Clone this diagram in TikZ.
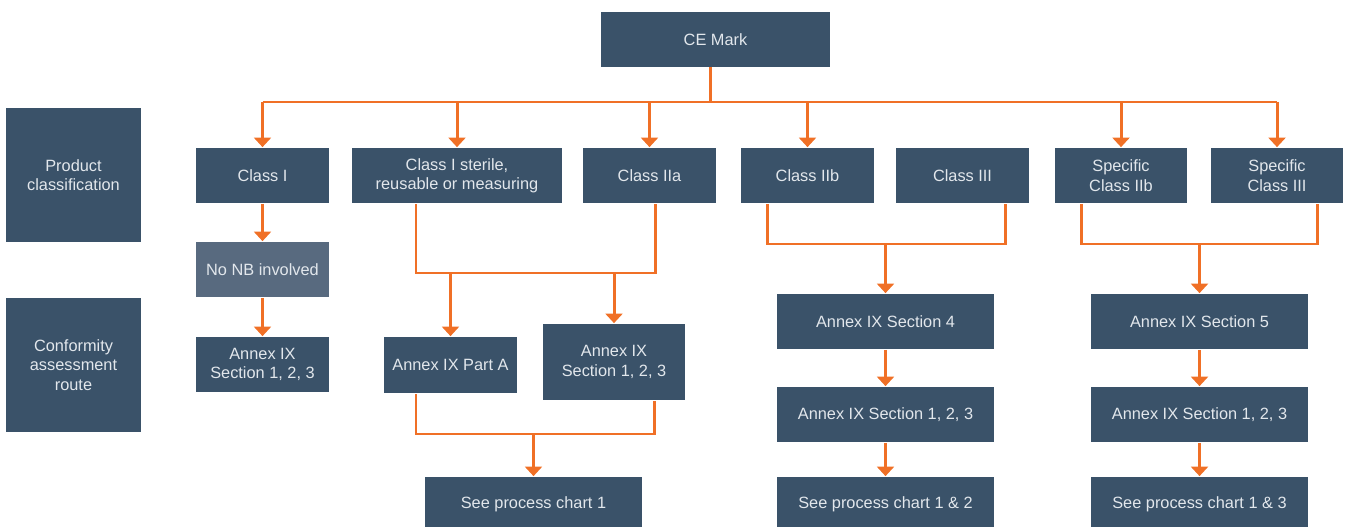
\documentclass[tikz,border=0pt]{standalone}
\usepackage{fontspec}
\setmainfont{Liberation Sans}
\usepackage{xcolor}
\usetikzlibrary{arrows.meta}

\definecolor{boxblue}{HTML}{3A5269}
\definecolor{boxgrey}{HTML}{586A7F}
\definecolor{boxtext}{HTML}{E2E7EC}
\definecolor{linkorange}{HTML}{F07026}

\begin{document}
\begin{tikzpicture}[x=0.02cm, y=-0.02cm,
		box/.style={fill=boxblue, text=boxtext, font=\fontsize{9.3}{11}\selectfont, align=center, inner sep=0pt, minimum width=2.66cm, minimum height=1.12cm},
		link/.style={draw=linkorange, line width=1.7pt},
		arr/.style={link, -{Triangle[width=9.6pt,length=5.4pt]}}]
		\useasboundingbox (0,0) rectangle (1348,527);
		% top
		\node[box, minimum width=4.58cm] (ce) at (715.5,39.5) {CE Mark};
		% row labels
		\node[box, minimum width=2.7cm, minimum height=2.7cm] (lprod) at (73.5,175) {Product\\classification};
		\node[box, minimum width=2.7cm, minimum height=2.7cm] (lconf) at (73.5,365) {Conformity\\assessment\\route};
		% classes
		\node[box] (c1) at (262.5,175.5) {Class I};
		\node[box, minimum width=4.2cm] (c2) at (457,175.5) {Class I sterile,\\reusable or measuring};
		\node[box] (c3) at (649.5,175.5) {Class IIa};
		\node[box] (c4) at (807.5,175.5) {Class IIb};
		\node[box] (c5) at (962.5,175.5) {Class III};
		\node[box, minimum width=2.64cm] (c6) at (1121,175.5) {Specific\\Class IIb};
		\node[box, minimum width=2.64cm] (c7) at (1277,175.5) {Specific\\Class III};
		% routes
		\node[box, fill=boxgrey] (nonb) at (262.5,269.5) {No NB involved};
		\node[box] (a1) at (262.5,364.5) {Annex IX\\Section 1, 2, 3};
		\node[box, minimum height=1.14cm] (pa) at (450.5,365) {Annex IX Part A};
		\node[box, minimum width=2.84cm, minimum height=1.54cm] (a2) at (614,362) {Annex IX\\Section 1, 2, 3};
		\node[box, minimum width=4.34cm] (sp1) at (533.5,504.5) {See process chart 1};
		\node[box, minimum width=4.34cm] (s4) at (885.5,321.5) {Annex IX Section 4};
		\node[box, minimum width=4.34cm] (s4b) at (885.5,414.5) {Annex IX Section 1, 2, 3};
		\node[box, minimum width=4.34cm] (sp2) at (885.5,504.5) {See process chart 1 \& 2};
		\node[box, minimum width=4.34cm] (s5) at (1199.5,321.5) {Annex IX Section 5};
		\node[box, minimum width=4.34cm] (s5b) at (1199.5,414.5) {Annex IX Section 1, 2, 3};
		\node[box, minimum width=4.34cm] (sp3) at (1199.5,504.5) {See process chart 1 \& 3};
		% connectors
		\coordinate (stem) at (710,67);
		\coordinate (bus) at (0,102);
		\draw[link] (stem) -- (stem |- bus);
		\draw[link] (c1.north |- bus) -- (c7.north |- bus);
		\foreach \n in {c1,c2,c3,c4,c6,c7}
			\draw[arr] (\n.north |- bus) -- (\n.north);
		\draw[arr] (c1) -- (nonb);
		\draw[arr] (nonb) -- (a1);
		\coordinate (j1) at (416,273);
		\coordinate (j2) at (655,273);
		\draw[link] (j1 |- c2.south) -- (j1) -- (j2) -- (j2 |- c3.south);
		\draw[arr] (pa.north |- j1) -- (pa.north);
		\draw[arr] (a2.north |- j1) -- (a2.north);
		\coordinate (j3) at (416,434);
		\coordinate (j4) at (654,434);
		\draw[link] (j3 |- pa.south) -- (j3) -- (j4) -- (j4 |- a2.south);
		\draw[arr] (sp1.north |- j3) -- (sp1.north);
		\coordinate (j5) at (767,244);
		\coordinate (j6) at (1005,244);
		\draw[link] (j5 |- c4.south) -- (j5) -- (j6) -- (j6 |- c5.south);
		\draw[arr] (s4.north |- j5) -- (s4.north);
		\draw[arr] (s4) -- (s4b);
		\draw[arr] (s4b) -- (sp2);
		\coordinate (j7) at (1081,244);
		\coordinate (j8) at (1317,244);
		\draw[link] (j7 |- c6.south) -- (j7) -- (j8) -- (j8 |- c7.south);
		\draw[arr] (s5.north |- j7) -- (s5.north);
		\draw[arr] (s5) -- (s5b);
		\draw[arr] (s5b) -- (sp3);
\end{tikzpicture}
\end{document}
